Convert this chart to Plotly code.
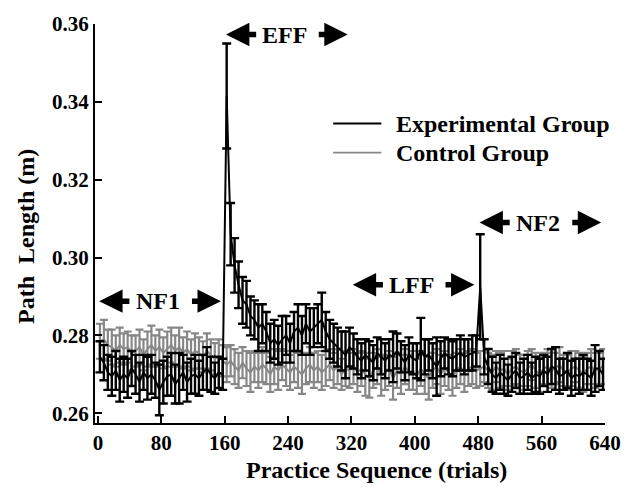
import plotly.graph_objects as go

# Trial position of each block (5 trials per block)
trials = [2.5 + 5 * i for i in range(128)]

# Experimental group: mean path length (m) and error
exp_mean = [
    # NF1
    0.2745, 0.2730, 0.2705, 0.2695, 0.2710, 0.2685, 0.2700, 0.2690, 0.2715, 0.2700,
    0.2680, 0.2705, 0.2690, 0.2700, 0.2685, 0.2660, 0.2680, 0.2695, 0.2700, 0.2675,
    0.2690, 0.2705, 0.2680, 0.2695, 0.2700, 0.2690, 0.2705, 0.2715, 0.2700, 0.2690,
    0.2705, 0.2700,
    # EFF
    0.3415, 0.3060, 0.2980, 0.2930, 0.2890, 0.2880, 0.2850, 0.2840, 0.2820, 0.2830,
    0.2810, 0.2780, 0.2790, 0.2775, 0.2790, 0.2800, 0.2780, 0.2810, 0.2820, 0.2800,
    0.2830, 0.2810, 0.2820, 0.2830, 0.2840, 0.2810, 0.2790, 0.2780, 0.2770, 0.2760,
    0.2750, 0.2770,
    # LFF
    0.2760, 0.2745, 0.2735, 0.2750, 0.2740, 0.2730, 0.2755, 0.2745, 0.2735, 0.2750,
    0.2745, 0.2760, 0.2745, 0.2730, 0.2750, 0.2740, 0.2735, 0.2765, 0.2745, 0.2750,
    0.2735, 0.2720, 0.2740, 0.2755, 0.2745, 0.2740, 0.2750, 0.2755, 0.2745, 0.2750,
    0.2755, 0.2760,
    # NF2
    0.2925, 0.2745, 0.2720, 0.2700, 0.2690, 0.2705, 0.2695, 0.2685, 0.2700, 0.2710,
    0.2690, 0.2695, 0.2705, 0.2690, 0.2700, 0.2695, 0.2710, 0.2700, 0.2720, 0.2715,
    0.2695, 0.2700, 0.2710, 0.2690, 0.2700, 0.2695, 0.2705, 0.2700, 0.2690, 0.2715,
    0.2715, 0.2700,
]
exp_err = [
    0.0040, 0.0045, 0.0045, 0.0050, 0.0050, 0.0055, 0.0045, 0.0050, 0.0045, 0.0050,
    0.0050, 0.0045, 0.0055, 0.0050, 0.0045, 0.0065, 0.0055, 0.0050, 0.0055, 0.0050,
    0.0065, 0.0045, 0.0050, 0.0045, 0.0050, 0.0045, 0.0045, 0.0055, 0.0045, 0.0040,
    0.0040, 0.0040,
    0.0135, 0.0080, 0.0070, 0.0060, 0.0060, 0.0060, 0.0050, 0.0050, 0.0060, 0.0050,
    0.0050, 0.0050, 0.0050, 0.0050, 0.0060, 0.0050, 0.0050, 0.0050, 0.0060, 0.0050,
    0.0050, 0.0060, 0.0050, 0.0050, 0.0070, 0.0050, 0.0050, 0.0050, 0.0050, 0.0050,
    0.0060, 0.0050,
    0.0045, 0.0045, 0.0045, 0.0040, 0.0045, 0.0045, 0.0040, 0.0045, 0.0045, 0.0040,
    0.0065, 0.0045, 0.0040, 0.0045, 0.0045, 0.0040, 0.0045, 0.0080, 0.0045, 0.0040,
    0.0045, 0.0075, 0.0045, 0.0040, 0.0045, 0.0045, 0.0040, 0.0045, 0.0045, 0.0040,
    0.0045, 0.0040,
    0.0135, 0.0045, 0.0045, 0.0045, 0.0040, 0.0045, 0.0045, 0.0040, 0.0045, 0.0045,
    0.0040, 0.0045, 0.0045, 0.0040, 0.0045, 0.0045, 0.0040, 0.0045, 0.0045, 0.0055,
    0.0045, 0.0040, 0.0045, 0.0045, 0.0040, 0.0045, 0.0045, 0.0040, 0.0045, 0.0060,
    0.0045, 0.0040,
]

# Control group
ctl_mean = [
    0.2785, 0.2790, 0.2775, 0.2770, 0.2760, 0.2775, 0.2765, 0.2770, 0.2755, 0.2760,
    0.2770, 0.2750, 0.2765, 0.2775, 0.2760, 0.2770, 0.2755, 0.2765, 0.2775, 0.2760,
    0.2770, 0.2755, 0.2765, 0.2750, 0.2760, 0.2755, 0.2745, 0.2760, 0.2750, 0.2740,
    0.2745, 0.2735,
    0.2725, 0.2735, 0.2720, 0.2710, 0.2730, 0.2715, 0.2705, 0.2720, 0.2710, 0.2725,
    0.2715, 0.2700, 0.2720, 0.2710, 0.2725, 0.2715, 0.2705, 0.2720, 0.2710, 0.2700,
    0.2715, 0.2725, 0.2710, 0.2720, 0.2705, 0.2715, 0.2725, 0.2710, 0.2720, 0.2700,
    0.2715, 0.2710,
    0.2720, 0.2705, 0.2715, 0.2700, 0.2690, 0.2710, 0.2720, 0.2695, 0.2705, 0.2715,
    0.2690, 0.2710, 0.2700, 0.2720, 0.2705, 0.2710, 0.2695, 0.2715, 0.2700, 0.2690,
    0.2710, 0.2720, 0.2700, 0.2715, 0.2705, 0.2695, 0.2710, 0.2720, 0.2705, 0.2715,
    0.2720, 0.2710,
    0.2715, 0.2720, 0.2710, 0.2705, 0.2720, 0.2710, 0.2715, 0.2700, 0.2715, 0.2720,
    0.2710, 0.2705, 0.2715, 0.2725, 0.2710, 0.2700, 0.2715, 0.2720, 0.2710, 0.2715,
    0.2725, 0.2710, 0.2705, 0.2715, 0.2720, 0.2710, 0.2700, 0.2715, 0.2720, 0.2710,
    0.2715, 0.2720,
]
ctl_err = [
    0.0045, 0.0050, 0.0040, 0.0045, 0.0040, 0.0045, 0.0040, 0.0040, 0.0045, 0.0040,
    0.0045, 0.0040, 0.0045, 0.0050, 0.0040, 0.0045, 0.0040, 0.0045, 0.0045, 0.0040,
    0.0050, 0.0040, 0.0045, 0.0040, 0.0045, 0.0040, 0.0040, 0.0045, 0.0040, 0.0040,
    0.0045, 0.0040,
    0.0045, 0.0040, 0.0045, 0.0045, 0.0040, 0.0045, 0.0050, 0.0040, 0.0045, 0.0045,
    0.0040, 0.0045, 0.0045, 0.0050, 0.0040, 0.0045, 0.0045, 0.0040, 0.0045, 0.0050,
    0.0040, 0.0045, 0.0045, 0.0040, 0.0045, 0.0045, 0.0040, 0.0045, 0.0045, 0.0040,
    0.0045, 0.0045,
    0.0045, 0.0050, 0.0045, 0.0055, 0.0050, 0.0045, 0.0045, 0.0050, 0.0045, 0.0045,
    0.0055, 0.0045, 0.0050, 0.0045, 0.0045, 0.0050, 0.0045, 0.0045, 0.0050, 0.0055,
    0.0045, 0.0045, 0.0050, 0.0045, 0.0045, 0.0050, 0.0045, 0.0045, 0.0050, 0.0045,
    0.0045, 0.0045,
    0.0045, 0.0040, 0.0045, 0.0045, 0.0040, 0.0045, 0.0045, 0.0040, 0.0045, 0.0045,
    0.0040, 0.0045, 0.0045, 0.0040, 0.0045, 0.0045, 0.0040, 0.0045, 0.0045, 0.0040,
    0.0045, 0.0040, 0.0045, 0.0045, 0.0040, 0.0045, 0.0045, 0.0040, 0.0045, 0.0045,
    0.0040, 0.0045,
]

x_ticks = [0, 80, 160, 240, 320, 400, 480, 560, 640]
y_ticks = [0.26, 0.28, 0.30, 0.32, 0.34, 0.36]

# Practice phases and the level of their arrow labels
phases = ["NF1", "EFF", "LFF", "NF2"]
phase_start = [0, 160, 320, 480]
phase_end = [160, 320, 480, 640]
phase_level = [0.2888, 0.3573, 0.2930, 0.3090]

FONT = "Liberation Serif"
BLACK = "#000000"
GRAY = "#878787"

fig = go.Figure()

fig.add_trace(go.Scatter(
    x=trials, y=ctl_mean, mode="lines", name="Control Group",
    line=dict(color=GRAY, width=2),
    error_y=dict(type="data", array=ctl_err, visible=True, color=GRAY, thickness=2.2, width=4),
    showlegend=False,
))
fig.add_trace(go.Scatter(
    x=trials, y=exp_mean, mode="lines", name="Experimental Group",
    line=dict(color=BLACK, width=2),
    error_y=dict(type="data", array=exp_err, visible=True, color=BLACK, thickness=2.4, width=4.5),
    showlegend=False,
))

annotations = []
for lab, s, e, lv in zip(phases, phase_start, phase_end, phase_level):
    span = e - s
    mid = s + span * 0.47
    annotations.append(dict(x=mid, y=lv, xref="x", yref="y", text="<b>" + lab + "</b>",
                            showarrow=False, font=dict(family=FONT, size=24, color=BLACK),
                            xanchor="center", yanchor="middle"))
    annotations.append(dict(x=s + span * 0.01, y=lv, ax=s + span * 0.26, ay=lv,
                            xref="x", yref="y", axref="x", ayref="y", text="",
                            showarrow=True, arrowhead=2, arrowsize=0.85, arrowwidth=5.5,
                            arrowcolor=BLACK, standoff=0, startstandoff=0))
    annotations.append(dict(x=s + span * 0.97, y=lv, ax=s + span * 0.73, ay=lv,
                            xref="x", yref="y", axref="x", ayref="y", text="",
                            showarrow=True, arrowhead=2, arrowsize=0.85, arrowwidth=5.5,
                            arrowcolor=BLACK, standoff=0, startstandoff=0))

# Manual legend
legend_names = ["Experimental Group", "Control Group"]
legend_colors = [BLACK, GRAY]
legend_y = [0.7506, 0.6774]
shapes = []
for nm, col, ly in zip(legend_names, legend_colors, legend_y):
    shapes.append(dict(type="line", xref="paper", yref="paper", x0=0.467, x1=0.5615,
                       y0=ly, y1=ly, line=dict(color=col, width=1.8)))
    annotations.append(dict(x=0.586, y=ly, xref="paper", yref="paper", text="<b>" + nm + "</b>",
                            showarrow=False, xanchor="left", yanchor="middle",
                            font=dict(family=FONT, size=24, color=BLACK)))

# Axis titles (placed as in the original figure)
annotations.append(dict(x=-0.135, y=0.4665, xref="paper", yref="paper",
                        text="<b>Path&nbsp; Length (m)</b>", textangle=-90,
                        showarrow=False, xanchor="center", yanchor="middle",
                        font=dict(family=FONT, size=24, color=BLACK)))
annotations.append(dict(x=0.552, y=-0.117, xref="paper", yref="paper",
                        text="<b>Practice Sequence (trials)</b>",
                        showarrow=False, xanchor="center", yanchor="middle",
                        font=dict(family=FONT, size=24, color=BLACK)))

fig.update_layout(
    width=633, height=489,
    margin=dict(l=95, r=18, t=20, b=66),
    paper_bgcolor="white", plot_bgcolor="white",
    annotations=annotations, shapes=shapes,
    xaxis=dict(
        range=[-3.7, 640], tickvals=x_ticks, ticktext=[str(v) for v in x_ticks],
        showline=True, linecolor=BLACK, linewidth=2, mirror=False,
        ticks="inside", ticklen=7, tickwidth=2, tickcolor=BLACK,
        showgrid=False, zeroline=False,
        tickfont=dict(family=FONT, size=21, color=BLACK, weight="bold"),
    ),
    yaxis=dict(
        range=[0.2575, 0.36], tickvals=y_ticks, ticktext=["%.2f" % v for v in y_ticks],
        showline=True, linecolor=BLACK, linewidth=2, mirror=False,
        ticks="inside", ticklen=7, tickwidth=2, tickcolor=BLACK,
        showgrid=False, zeroline=False,
        tickfont=dict(family=FONT, size=21, color=BLACK, weight="bold"),
    ),
)

fig.write_html("out.html")
